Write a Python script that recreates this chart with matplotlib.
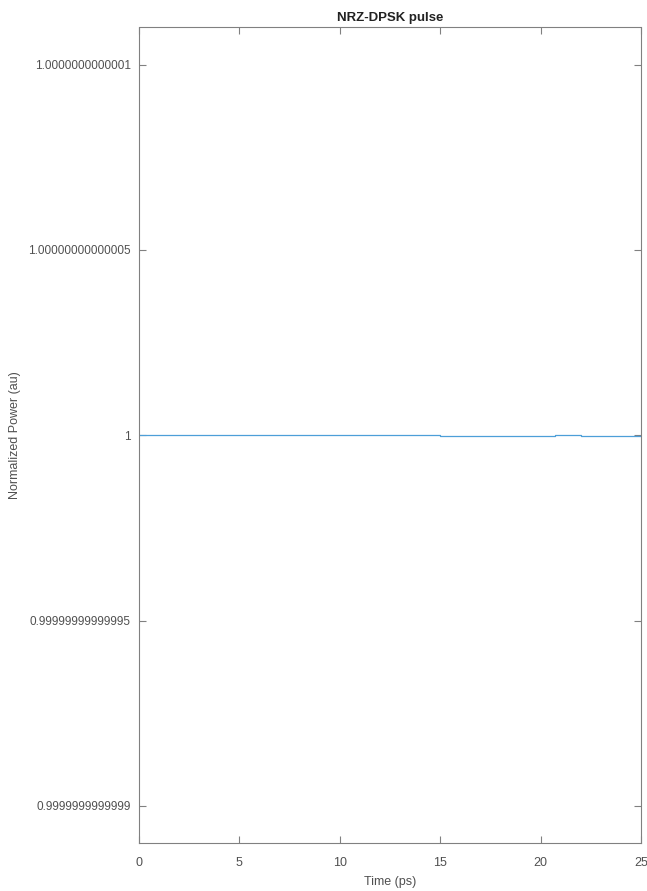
import matplotlib
matplotlib.use("Agg")
import matplotlib.pyplot as plt

plt.rcParams['font.family'] = ['Liberation Sans', 'DejaVu Sans']

# pulse power vs time (step changes at bit edges)
t_ps = [0, 15, 20.7, 22, 25]
power = [1.0, 0.9999999999999998, 1.0, 0.9999999999999998, 0.9999999999999998]

x_ticks = [0, 5, 10, 15, 20, 25]
y_ticks = [0.9999999999999, 0.99999999999995, 1.0, 1.00000000000005, 1.0000000000001]
y_ticklabels = ['0.9999999999999', '0.99999999999995', '1', '1.00000000000005', '1.0000000000001']

fig = plt.figure(figsize=(6.47, 8.91), dpi=100)
ax = fig.add_axes([0.2148, 0.0542, 0.7759, 0.9155])

ax.plot(t_ps, power, drawstyle='steps-post', color='#4d9fd8', lw=0.9)

ax.set_xlim(0, 25)
ax.set_ylim(1 - 1.1e-13, 1 + 1.1e-13)
ax.set_xticks(x_ticks)
ax.set_xticklabels([str(v) for v in x_ticks])
ax.set_yticks(y_ticks)
ax.set_yticklabels(y_ticklabels)

for s in ax.spines.values():
    s.set_color('#808080')
    s.set_linewidth(0.8)
ax.tick_params(direction='in', length=5, width=0.8, color='#808080',
               labelcolor='#505050', labelsize=8.5, top=True, right=True, pad=6)
ax.tick_params(axis='x', labelsize=9, pad=10)

ax.set_title('NRZ-DPSK pulse', fontsize=9.5, fontweight='bold', color='#222222', pad=4)
ax.set_xlabel('Time (ps)', fontsize=9, color='#505050', labelpad=5)
ax.set_ylabel('Normalized Power (au)', fontsize=9, color='#505050', labelpad=5)

fig.savefig('out.png', dpi=100)
